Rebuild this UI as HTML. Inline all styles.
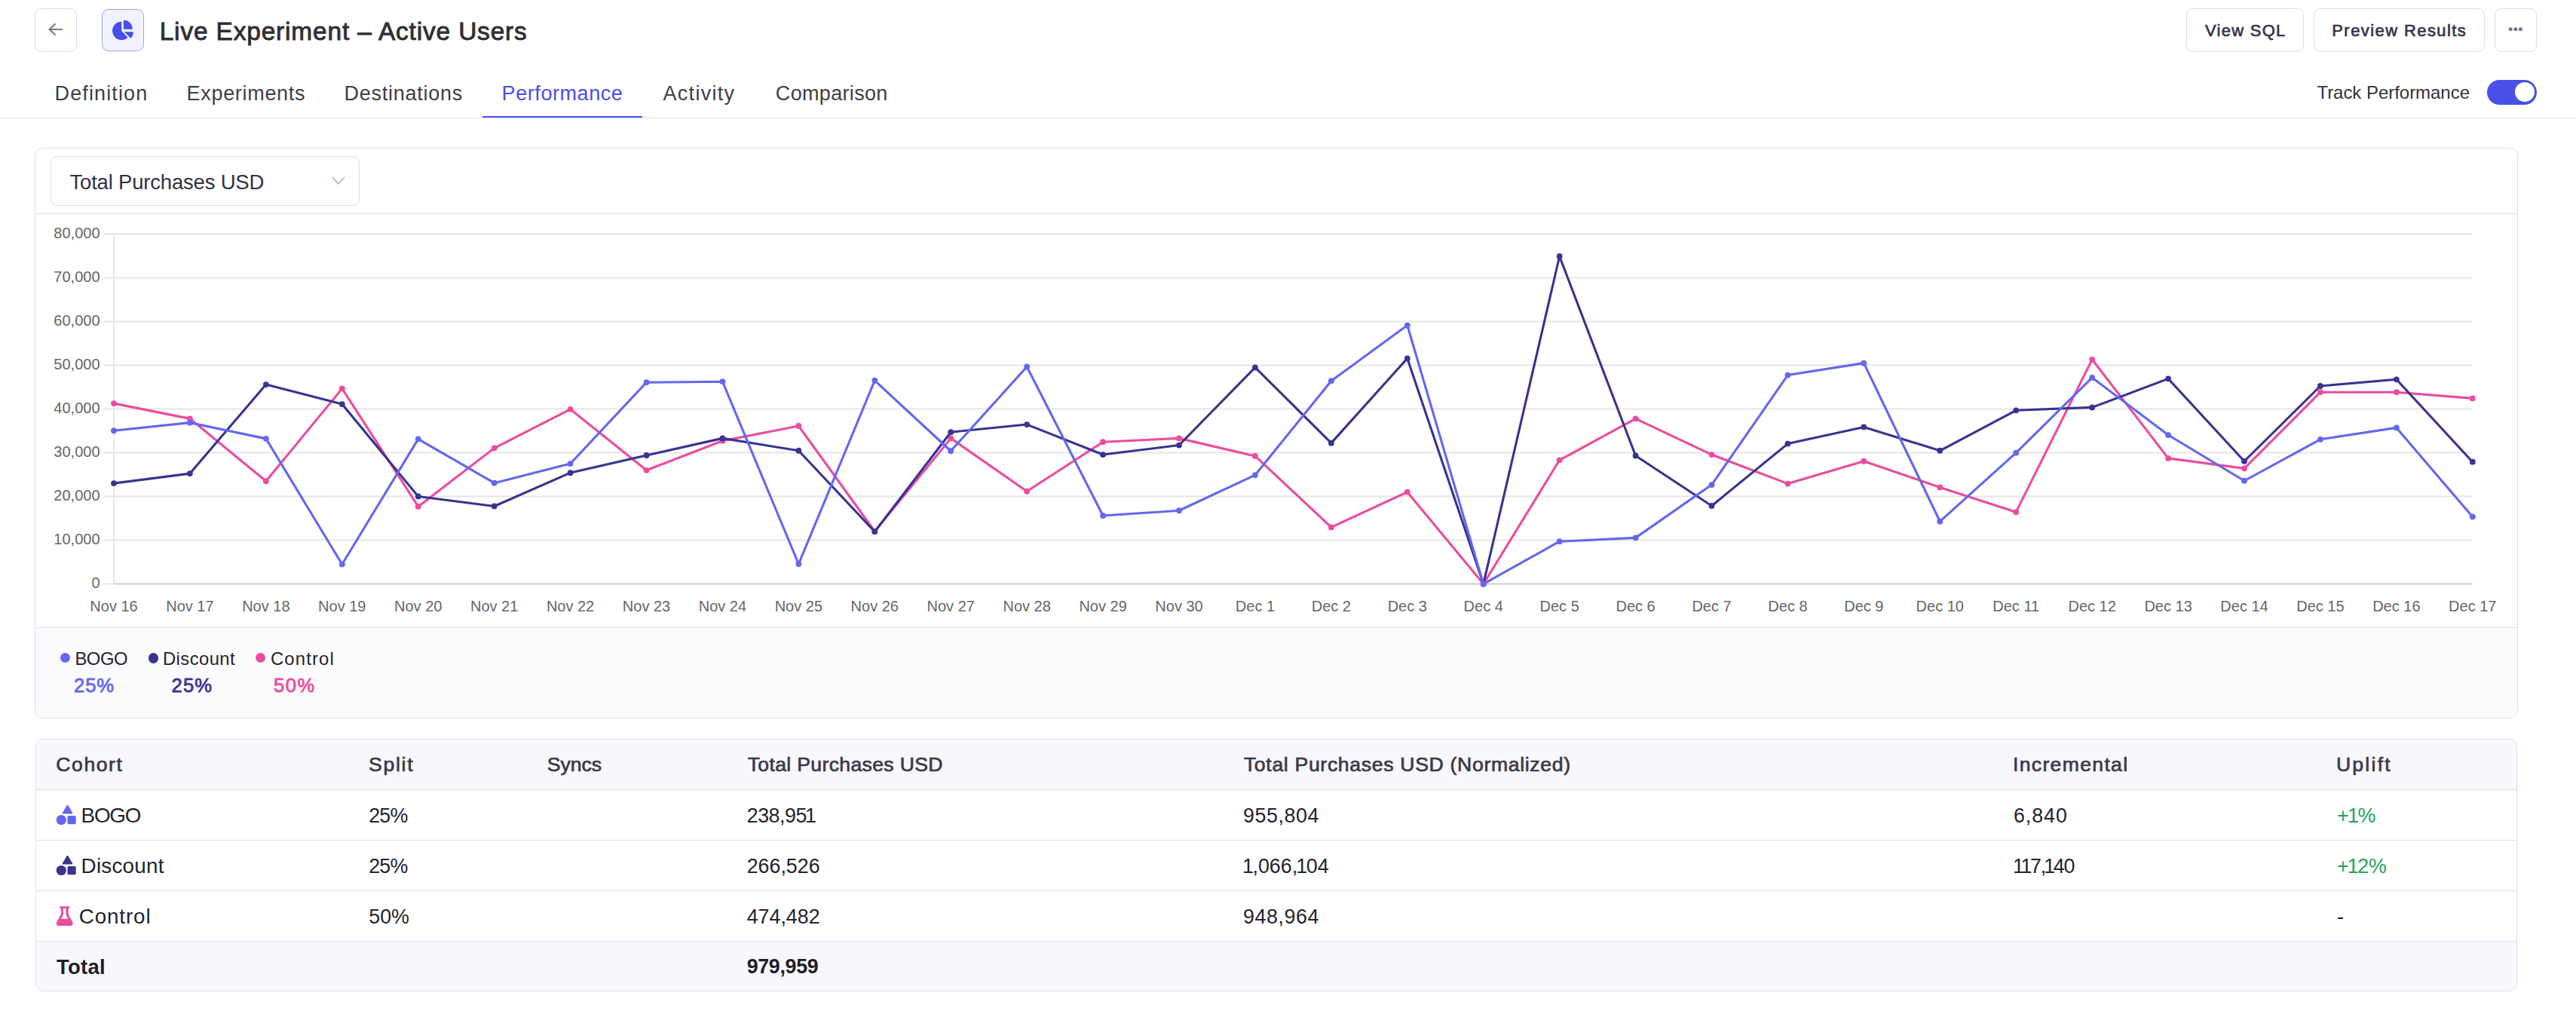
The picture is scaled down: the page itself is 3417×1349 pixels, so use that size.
<!DOCTYPE html>
<html><head><meta charset="utf-8"><title>Live Experiment – Active Users</title>
<style>
*{box-sizing:border-box;margin:0;padding:0}
html,body{width:3417px;height:1349px;overflow:hidden;background:#fff}
body{position:relative;font-family:'Liberation Sans', Arial, sans-serif}
.t{position:absolute;white-space:nowrap;line-height:1}
.box{position:absolute}
.n1{margin:0 -1.5px 0 -1.9px}
</style></head><body>
<!-- header -->
<div class='box' style='left:46px;top:11px;width:56px;height:58px;border:1px solid #dedbf0;border-radius:9px'></div>
<svg class='box' style='left:60px;top:27px' width='26' height='24' viewBox='0 0 26 24'><path d='M13 5 L5.5 12 L13 19 M5.8 12 H22.2' fill='none' stroke='#7c7990' stroke-width='2.2' stroke-linecap='round' stroke-linejoin='round'/></svg>
<div class='box' style='left:135px;top:12px;width:56px;height:56px;border:1px solid #9ea2f4;border-radius:9px;background:#f2f2fe'></div>
<svg class='box' style='left:148px;top:26px' width='30' height='30' viewBox='0 0 30 30'>
<path d='M13.3 14.9 V2.7 A12.2 12.2 0 1 0 21.6 23.8 Z' fill='#4650e6'/>
<path d='M15.9 12.7 V0.8 A11.9 11.9 0 0 1 27.8 12.7 Z' fill='#4650e6'/>
<path d='M16.9 16.2 H28.9 A12 12 0 0 1 25.4 24.7 Z' fill='#4650e6'/>
</svg>
<div class='box' style='left:2900px;top:11px;width:156px;height:58px;border:1px solid #dedbf0;border-radius:9px'></div>
<div class='box' style='left:3069px;top:11px;width:227px;height:58px;border:1px solid #dedbf0;border-radius:9px'></div>
<div class='box' style='left:3309px;top:11px;width:56px;height:58px;border:1px solid #dedbf0;border-radius:9px'></div>
<svg class='box' style='left:3325px;top:35px' width='24' height='8'><circle cx='5.2' cy='3.8' r='2.5' fill='#78758f'/><circle cx='11.8' cy='3.8' r='2.5' fill='#78758f'/><circle cx='18.4' cy='3.8' r='2.5' fill='#78758f'/></svg>
<div class='box' style='left:0;top:156px;width:3417px;height:1px;background:#e0deef'></div>
<div class='box' style='left:640px;top:154px;width:212px;height:2px;background:#4a50e6'></div>
<div class='box' style='left:3299px;top:106px;width:66px;height:33px;border-radius:17px;background:#4850e6'></div>
<div class='box' style='left:3336px;top:109px;width:26px;height:26px;border-radius:50%;background:#fff'></div>
<!-- chart card -->
<div class='box' style='left:46px;top:196px;width:3294px;height:757px;border:1px solid #e0deef;border-radius:10px;overflow:hidden;background:#fff'>
  <div class='box' style='left:0;top:635px;width:100%;height:120px;background:#fbfbfe;border-top:1px solid #e0deef'></div>
  <div class='box' style='left:0;top:86px;width:100%;height:1px;background:#e0deef'></div>
</div>
<div class='box' style='left:67px;top:207px;width:410px;height:66px;border:1px solid #dedbf0;border-radius:9px'></div>
<svg class='box' style='left:438px;top:232px' width='22' height='16'><path d='M3.1 3.3 L10.9 11.9 L18.5 3.3' fill='none' stroke='#aeb0df' stroke-width='1.6' stroke-linecap='round' stroke-linejoin='round'/></svg>
<!-- legend dots -->
<div class='box' style='left:80px;top:866px;width:13px;height:13px;border-radius:50%;background:#6467ee'></div>
<div class='box' style='left:196.5px;top:866px;width:13.5px;height:13.5px;border-radius:50%;background:#38348f'></div>
<div class='box' style='left:339px;top:866px;width:13px;height:13px;border-radius:50%;background:#ec4b9f'></div>
<!-- table card -->
<div class='box' style='left:47px;top:980px;width:3292px;height:335px;border:1px solid #e0deef;border-radius:10px;overflow:hidden;background:#fff'>
  <div class='box' style='left:0;top:0;width:100%;height:67px;background:#f8f7fc;border-bottom:1px solid #e0deef'></div>
  <div class='box' style='left:0;top:133px;width:100%;height:1px;background:#e0deef'></div>
  <div class='box' style='left:0;top:200px;width:100%;height:1px;background:#e0deef'></div>
  <div class='box' style='left:0;top:267px;width:100%;height:68px;background:#f8f7fc;border-top:1px solid #e0deef'></div>
</div>
<!-- cohort icons -->
<svg class='box' style='left:74px;top:1067px' width='28' height='28' viewBox='0 0 28 28'>
<path d='M15.5 1.8 L21.2 11.6 H9.8 Z' fill='#6467ee' stroke='#6467ee' stroke-width='2' stroke-linejoin='round'/>
<circle cx='7.3' cy='20.5' r='6.6' fill='#6467ee'/><rect x='15.5' y='15' width='11.2' height='11.2' rx='1.6' fill='#6467ee'/></svg>
<svg class='box' style='left:74px;top:1134px' width='28' height='28' viewBox='0 0 28 28'>
<path d='M15.5 1.8 L21.2 11.6 H9.8 Z' fill='#38348f' stroke='#38348f' stroke-width='2' stroke-linejoin='round'/>
<circle cx='7.3' cy='20.5' r='6.6' fill='#38348f'/><rect x='15.5' y='15' width='11.2' height='11.2' rx='1.6' fill='#38348f'/></svg>
<svg class='box' style='left:74px;top:1201px' width='24' height='28' viewBox='0 0 24 28'>
<rect x='5.1' y='1.2' width='12.9' height='2.9' rx='1.45' fill='#ec4b9f'/><path d='M6.8 3.5 V11.8 L1.2 22.2 Q-0.4 26.9 4.2 26.9 H19.3 Q23.9 26.9 22.3 22.2 L16.7 11.8 V3.5 Z M9.9 3.5 V12.5 L7.2 17.8 H16.3 L13.5 12.5 V3.5 Z' fill='#ec4b9f' fill-rule='evenodd'/></svg>
<svg width='3417' height='1349' style='position:absolute;left:0;top:0'><line x1='137.5' y1='774.50' x2='151.00' y2='774.50' stroke='#e6e6e6' stroke-width='1.8'/><line x1='151.00' y1='774.50' x2='3279.80' y2='774.50' stroke='#cbcbcb' stroke-width='1.8'/><line x1='137.5' y1='716.50' x2='3279.80' y2='716.50' stroke='#e6e6e6' stroke-width='1.8'/><line x1='137.5' y1='658.50' x2='3279.80' y2='658.50' stroke='#e6e6e6' stroke-width='1.8'/><line x1='137.5' y1='600.50' x2='3279.80' y2='600.50' stroke='#e6e6e6' stroke-width='1.8'/><line x1='137.5' y1='542.50' x2='3279.80' y2='542.50' stroke='#e6e6e6' stroke-width='1.8'/><line x1='137.5' y1='484.50' x2='3279.80' y2='484.50' stroke='#e6e6e6' stroke-width='1.8'/><line x1='137.5' y1='426.50' x2='3279.80' y2='426.50' stroke='#e6e6e6' stroke-width='1.8'/><line x1='137.5' y1='368.50' x2='3279.80' y2='368.50' stroke='#e6e6e6' stroke-width='1.8'/><line x1='137.5' y1='310.50' x2='3279.80' y2='310.50' stroke='#e6e6e6' stroke-width='1.8'/><line x1='151.00' y1='310.50' x2='151.00' y2='774.50' stroke='#e4e4e4' stroke-width='1.8'/><text x='132.5' y='780.10' text-anchor='end' font-family="Liberation Sans, Arial, sans-serif" font-size='20' fill='#666'>0</text><text x='132.5' y='722.10' text-anchor='end' font-family="Liberation Sans, Arial, sans-serif" font-size='20' fill='#666'>10,000</text><text x='132.5' y='664.10' text-anchor='end' font-family="Liberation Sans, Arial, sans-serif" font-size='20' fill='#666'>20,000</text><text x='132.5' y='606.10' text-anchor='end' font-family="Liberation Sans, Arial, sans-serif" font-size='20' fill='#666'>30,000</text><text x='132.5' y='548.10' text-anchor='end' font-family="Liberation Sans, Arial, sans-serif" font-size='20' fill='#666'>40,000</text><text x='132.5' y='490.10' text-anchor='end' font-family="Liberation Sans, Arial, sans-serif" font-size='20' fill='#666'>50,000</text><text x='132.5' y='432.10' text-anchor='end' font-family="Liberation Sans, Arial, sans-serif" font-size='20' fill='#666'>60,000</text><text x='132.5' y='374.10' text-anchor='end' font-family="Liberation Sans, Arial, sans-serif" font-size='20' fill='#666'>70,000</text><text x='132.5' y='316.10' text-anchor='end' font-family="Liberation Sans, Arial, sans-serif" font-size='20' fill='#666'>80,000</text><text x='151.00' y='810.8' text-anchor='middle' font-family="Liberation Sans, Arial, sans-serif" font-size='20' fill='#666'>Nov 16</text><text x='251.93' y='810.8' text-anchor='middle' font-family="Liberation Sans, Arial, sans-serif" font-size='20' fill='#666'>Nov 17</text><text x='352.86' y='810.8' text-anchor='middle' font-family="Liberation Sans, Arial, sans-serif" font-size='20' fill='#666'>Nov 18</text><text x='453.79' y='810.8' text-anchor='middle' font-family="Liberation Sans, Arial, sans-serif" font-size='20' fill='#666'>Nov 19</text><text x='554.72' y='810.8' text-anchor='middle' font-family="Liberation Sans, Arial, sans-serif" font-size='20' fill='#666'>Nov 20</text><text x='655.65' y='810.8' text-anchor='middle' font-family="Liberation Sans, Arial, sans-serif" font-size='20' fill='#666'>Nov 21</text><text x='756.57' y='810.8' text-anchor='middle' font-family="Liberation Sans, Arial, sans-serif" font-size='20' fill='#666'>Nov 22</text><text x='857.50' y='810.8' text-anchor='middle' font-family="Liberation Sans, Arial, sans-serif" font-size='20' fill='#666'>Nov 23</text><text x='958.43' y='810.8' text-anchor='middle' font-family="Liberation Sans, Arial, sans-serif" font-size='20' fill='#666'>Nov 24</text><text x='1059.36' y='810.8' text-anchor='middle' font-family="Liberation Sans, Arial, sans-serif" font-size='20' fill='#666'>Nov 25</text><text x='1160.29' y='810.8' text-anchor='middle' font-family="Liberation Sans, Arial, sans-serif" font-size='20' fill='#666'>Nov 26</text><text x='1261.22' y='810.8' text-anchor='middle' font-family="Liberation Sans, Arial, sans-serif" font-size='20' fill='#666'>Nov 27</text><text x='1362.15' y='810.8' text-anchor='middle' font-family="Liberation Sans, Arial, sans-serif" font-size='20' fill='#666'>Nov 28</text><text x='1463.08' y='810.8' text-anchor='middle' font-family="Liberation Sans, Arial, sans-serif" font-size='20' fill='#666'>Nov 29</text><text x='1564.01' y='810.8' text-anchor='middle' font-family="Liberation Sans, Arial, sans-serif" font-size='20' fill='#666'>Nov 30</text><text x='1664.94' y='810.8' text-anchor='middle' font-family="Liberation Sans, Arial, sans-serif" font-size='20' fill='#666'>Dec 1</text><text x='1765.86' y='810.8' text-anchor='middle' font-family="Liberation Sans, Arial, sans-serif" font-size='20' fill='#666'>Dec 2</text><text x='1866.79' y='810.8' text-anchor='middle' font-family="Liberation Sans, Arial, sans-serif" font-size='20' fill='#666'>Dec 3</text><text x='1967.72' y='810.8' text-anchor='middle' font-family="Liberation Sans, Arial, sans-serif" font-size='20' fill='#666'>Dec 4</text><text x='2068.65' y='810.8' text-anchor='middle' font-family="Liberation Sans, Arial, sans-serif" font-size='20' fill='#666'>Dec 5</text><text x='2169.58' y='810.8' text-anchor='middle' font-family="Liberation Sans, Arial, sans-serif" font-size='20' fill='#666'>Dec 6</text><text x='2270.51' y='810.8' text-anchor='middle' font-family="Liberation Sans, Arial, sans-serif" font-size='20' fill='#666'>Dec 7</text><text x='2371.44' y='810.8' text-anchor='middle' font-family="Liberation Sans, Arial, sans-serif" font-size='20' fill='#666'>Dec 8</text><text x='2472.37' y='810.8' text-anchor='middle' font-family="Liberation Sans, Arial, sans-serif" font-size='20' fill='#666'>Dec 9</text><text x='2573.30' y='810.8' text-anchor='middle' font-family="Liberation Sans, Arial, sans-serif" font-size='20' fill='#666'>Dec 10</text><text x='2674.23' y='810.8' text-anchor='middle' font-family="Liberation Sans, Arial, sans-serif" font-size='20' fill='#666'>Dec 11</text><text x='2775.15' y='810.8' text-anchor='middle' font-family="Liberation Sans, Arial, sans-serif" font-size='20' fill='#666'>Dec 12</text><text x='2876.08' y='810.8' text-anchor='middle' font-family="Liberation Sans, Arial, sans-serif" font-size='20' fill='#666'>Dec 13</text><text x='2977.01' y='810.8' text-anchor='middle' font-family="Liberation Sans, Arial, sans-serif" font-size='20' fill='#666'>Dec 14</text><text x='3077.94' y='810.8' text-anchor='middle' font-family="Liberation Sans, Arial, sans-serif" font-size='20' fill='#666'>Dec 15</text><text x='3178.87' y='810.8' text-anchor='middle' font-family="Liberation Sans, Arial, sans-serif" font-size='20' fill='#666'>Dec 16</text><text x='3279.80' y='810.8' text-anchor='middle' font-family="Liberation Sans, Arial, sans-serif" font-size='20' fill='#666'>Dec 17</text><polyline points='151.00,535.12 251.93,555.36 352.86,638.23 453.79,515.37 554.72,671.96 655.65,594.39 756.57,542.83 857.50,623.78 958.43,584.75 1059.36,565.00 1160.29,704.72 1261.22,581.38 1362.15,651.72 1463.08,586.19 1564.01,581.38 1664.94,604.99 1765.86,699.42 1866.79,652.68 1967.72,774.58 2068.65,610.29 2169.58,555.36 2270.51,603.06 2371.44,641.60 2472.37,611.73 2573.30,646.42 2674.23,679.18 2775.15,476.82 2876.08,607.88 2977.01,621.37 3077.94,520.19 3178.87,520.19 3279.80,528.38' fill='none' stroke='#ec4b9f' stroke-width='3.1' stroke-linejoin='round'/><circle cx='151.00' cy='535.12' r='3.9' fill='#ec4b9f'/><circle cx='251.93' cy='555.36' r='3.9' fill='#ec4b9f'/><circle cx='352.86' cy='638.23' r='3.9' fill='#ec4b9f'/><circle cx='453.79' cy='515.37' r='3.9' fill='#ec4b9f'/><circle cx='554.72' cy='671.96' r='3.9' fill='#ec4b9f'/><circle cx='655.65' cy='594.39' r='3.9' fill='#ec4b9f'/><circle cx='756.57' cy='542.83' r='3.9' fill='#ec4b9f'/><circle cx='857.50' cy='623.78' r='3.9' fill='#ec4b9f'/><circle cx='958.43' cy='584.75' r='3.9' fill='#ec4b9f'/><circle cx='1059.36' cy='565.00' r='3.9' fill='#ec4b9f'/><circle cx='1160.29' cy='704.72' r='3.9' fill='#ec4b9f'/><circle cx='1261.22' cy='581.38' r='3.9' fill='#ec4b9f'/><circle cx='1362.15' cy='651.72' r='3.9' fill='#ec4b9f'/><circle cx='1463.08' cy='586.19' r='3.9' fill='#ec4b9f'/><circle cx='1564.01' cy='581.38' r='3.9' fill='#ec4b9f'/><circle cx='1664.94' cy='604.99' r='3.9' fill='#ec4b9f'/><circle cx='1765.86' cy='699.42' r='3.9' fill='#ec4b9f'/><circle cx='1866.79' cy='652.68' r='3.9' fill='#ec4b9f'/><circle cx='1967.72' cy='774.58' r='3.9' fill='#ec4b9f'/><circle cx='2068.65' cy='610.29' r='3.9' fill='#ec4b9f'/><circle cx='2169.58' cy='555.36' r='3.9' fill='#ec4b9f'/><circle cx='2270.51' cy='603.06' r='3.9' fill='#ec4b9f'/><circle cx='2371.44' cy='641.60' r='3.9' fill='#ec4b9f'/><circle cx='2472.37' cy='611.73' r='3.9' fill='#ec4b9f'/><circle cx='2573.30' cy='646.42' r='3.9' fill='#ec4b9f'/><circle cx='2674.23' cy='679.18' r='3.9' fill='#ec4b9f'/><circle cx='2775.15' cy='476.82' r='3.9' fill='#ec4b9f'/><circle cx='2876.08' cy='607.88' r='3.9' fill='#ec4b9f'/><circle cx='2977.01' cy='621.37' r='3.9' fill='#ec4b9f'/><circle cx='3077.94' cy='520.19' r='3.9' fill='#ec4b9f'/><circle cx='3178.87' cy='520.19' r='3.9' fill='#ec4b9f'/><circle cx='3279.80' cy='528.38' r='3.9' fill='#ec4b9f'/><polyline points='151.00,641.12 251.93,628.11 352.86,510.07 453.79,536.09 554.72,658.47 655.65,671.47 756.57,627.15 857.50,604.02 958.43,581.38 1059.36,597.76 1160.29,705.20 1261.22,573.19 1362.15,563.07 1463.08,603.06 1564.01,590.53 1664.94,487.42 1765.86,587.64 1866.79,475.38 1967.72,774.58 2068.65,339.99 2169.58,604.50 2270.51,670.99 2371.44,588.60 2472.37,566.44 2573.30,597.76 2674.23,544.28 2775.15,540.42 2876.08,502.36 2977.01,611.73 3077.94,512.00 3178.87,503.32 3279.80,612.69' fill='none' stroke='#38348f' stroke-width='3.1' stroke-linejoin='round'/><circle cx='151.00' cy='641.12' r='3.9' fill='#38348f'/><circle cx='251.93' cy='628.11' r='3.9' fill='#38348f'/><circle cx='352.86' cy='510.07' r='3.9' fill='#38348f'/><circle cx='453.79' cy='536.09' r='3.9' fill='#38348f'/><circle cx='554.72' cy='658.47' r='3.9' fill='#38348f'/><circle cx='655.65' cy='671.47' r='3.9' fill='#38348f'/><circle cx='756.57' cy='627.15' r='3.9' fill='#38348f'/><circle cx='857.50' cy='604.02' r='3.9' fill='#38348f'/><circle cx='958.43' cy='581.38' r='3.9' fill='#38348f'/><circle cx='1059.36' cy='597.76' r='3.9' fill='#38348f'/><circle cx='1160.29' cy='705.20' r='3.9' fill='#38348f'/><circle cx='1261.22' cy='573.19' r='3.9' fill='#38348f'/><circle cx='1362.15' cy='563.07' r='3.9' fill='#38348f'/><circle cx='1463.08' cy='603.06' r='3.9' fill='#38348f'/><circle cx='1564.01' cy='590.53' r='3.9' fill='#38348f'/><circle cx='1664.94' cy='487.42' r='3.9' fill='#38348f'/><circle cx='1765.86' cy='587.64' r='3.9' fill='#38348f'/><circle cx='1866.79' cy='475.38' r='3.9' fill='#38348f'/><circle cx='1967.72' cy='774.58' r='3.9' fill='#38348f'/><circle cx='2068.65' cy='339.99' r='3.9' fill='#38348f'/><circle cx='2169.58' cy='604.50' r='3.9' fill='#38348f'/><circle cx='2270.51' cy='670.99' r='3.9' fill='#38348f'/><circle cx='2371.44' cy='588.60' r='3.9' fill='#38348f'/><circle cx='2472.37' cy='566.44' r='3.9' fill='#38348f'/><circle cx='2573.30' cy='597.76' r='3.9' fill='#38348f'/><circle cx='2674.23' cy='544.28' r='3.9' fill='#38348f'/><circle cx='2775.15' cy='540.42' r='3.9' fill='#38348f'/><circle cx='2876.08' cy='502.36' r='3.9' fill='#38348f'/><circle cx='2977.01' cy='611.73' r='3.9' fill='#38348f'/><circle cx='3077.94' cy='512.00' r='3.9' fill='#38348f'/><circle cx='3178.87' cy='503.32' r='3.9' fill='#38348f'/><circle cx='3279.80' cy='612.69' r='3.9' fill='#38348f'/><polyline points='151.00,571.26 251.93,560.66 352.86,581.86 453.79,748.56 554.72,582.34 655.65,640.64 756.57,615.10 857.50,507.18 958.43,506.21 1059.36,748.08 1160.29,504.77 1261.22,598.24 1362.15,486.46 1463.08,684.00 1564.01,677.26 1664.94,630.04 1765.86,505.25 1866.79,431.53 1967.72,774.58 2068.65,718.21 2169.58,713.39 2270.51,643.05 2371.44,497.54 2472.37,481.64 2573.30,691.71 2674.23,600.65 2775.15,500.91 2876.08,577.04 2977.01,637.75 3077.94,582.82 3178.87,567.40 3279.80,685.45' fill='none' stroke='#6467ee' stroke-width='3.1' stroke-linejoin='round'/><circle cx='151.00' cy='571.26' r='3.9' fill='#6467ee'/><circle cx='251.93' cy='560.66' r='3.9' fill='#6467ee'/><circle cx='352.86' cy='581.86' r='3.9' fill='#6467ee'/><circle cx='453.79' cy='748.56' r='3.9' fill='#6467ee'/><circle cx='554.72' cy='582.34' r='3.9' fill='#6467ee'/><circle cx='655.65' cy='640.64' r='3.9' fill='#6467ee'/><circle cx='756.57' cy='615.10' r='3.9' fill='#6467ee'/><circle cx='857.50' cy='507.18' r='3.9' fill='#6467ee'/><circle cx='958.43' cy='506.21' r='3.9' fill='#6467ee'/><circle cx='1059.36' cy='748.08' r='3.9' fill='#6467ee'/><circle cx='1160.29' cy='504.77' r='3.9' fill='#6467ee'/><circle cx='1261.22' cy='598.24' r='3.9' fill='#6467ee'/><circle cx='1362.15' cy='486.46' r='3.9' fill='#6467ee'/><circle cx='1463.08' cy='684.00' r='3.9' fill='#6467ee'/><circle cx='1564.01' cy='677.26' r='3.9' fill='#6467ee'/><circle cx='1664.94' cy='630.04' r='3.9' fill='#6467ee'/><circle cx='1765.86' cy='505.25' r='3.9' fill='#6467ee'/><circle cx='1866.79' cy='431.53' r='3.9' fill='#6467ee'/><circle cx='1967.72' cy='774.58' r='3.9' fill='#6467ee'/><circle cx='2068.65' cy='718.21' r='3.9' fill='#6467ee'/><circle cx='2169.58' cy='713.39' r='3.9' fill='#6467ee'/><circle cx='2270.51' cy='643.05' r='3.9' fill='#6467ee'/><circle cx='2371.44' cy='497.54' r='3.9' fill='#6467ee'/><circle cx='2472.37' cy='481.64' r='3.9' fill='#6467ee'/><circle cx='2573.30' cy='691.71' r='3.9' fill='#6467ee'/><circle cx='2674.23' cy='600.65' r='3.9' fill='#6467ee'/><circle cx='2775.15' cy='500.91' r='3.9' fill='#6467ee'/><circle cx='2876.08' cy='577.04' r='3.9' fill='#6467ee'/><circle cx='2977.01' cy='637.75' r='3.9' fill='#6467ee'/><circle cx='3077.94' cy='582.82' r='3.9' fill='#6467ee'/><circle cx='3178.87' cy='567.40' r='3.9' fill='#6467ee'/><circle cx='3279.80' cy='685.45' r='3.9' fill='#6467ee'/></svg>
<div class='t' id='title' style='left:211.70px;top:25.13px;font-size:33.4px;font-weight:400;color:#2f2f35;letter-spacing:0.862px;-webkit-text-stroke:0.9px #2f2f35'>Live Experiment – Active Users</div><div class='t' id='viewsql' style='left:2925.00px;top:30.06px;font-size:21.9px;font-weight:400;color:#35344a;letter-spacing:1.317px;-webkit-text-stroke:0.7px #35344a'>View SQL</div><div class='t' id='preview' style='left:3093.30px;top:30.06px;font-size:21.9px;font-weight:400;color:#35344a;letter-spacing:1.469px;-webkit-text-stroke:0.7px #35344a'>Preview Results</div><div class='t' id='tab0' style='left:72.50px;top:110.94px;font-size:27px;font-weight:400;color:#3e3e46;letter-spacing:1.131px'>Definition</div><div class='t' id='tab1' style='left:247.60px;top:110.94px;font-size:27px;font-weight:400;color:#3e3e46;letter-spacing:0.680px'>Experiments</div><div class='t' id='tab2' style='left:456.60px;top:110.94px;font-size:27px;font-weight:400;color:#3e3e46;letter-spacing:0.727px'>Destinations</div><div class='t' id='tab3' style='left:665.60px;top:110.94px;font-size:27px;font-weight:400;color:#4a4fe6;letter-spacing:0.570px'>Performance</div><div class='t' id='tab4' style='left:879.50px;top:110.94px;font-size:27px;font-weight:400;color:#3e3e46;letter-spacing:1.297px'>Activity</div><div class='t' id='tab5' style='left:1028.80px;top:110.94px;font-size:27px;font-weight:400;color:#3e3e46;letter-spacing:0.333px'>Comparison</div><div class='t' id='track' style='left:3073.40px;top:111.18px;font-size:24.0px;font-weight:400;color:#333338;letter-spacing:-0.035px'>Track Performance</div><div class='t' id='dropdown' style='left:92.50px;top:227.82px;font-size:27.5px;font-weight:400;color:#33323f;letter-spacing:-0.194px'>Total Purchases USD</div><div class='t' id='lg0' style='left:99.50px;top:861.85px;font-size:23.8px;font-weight:400;color:#24232c;letter-spacing:-0.500px'>BOGO</div><div class='t' id='lg1' style='left:216.00px;top:861.85px;font-size:23.8px;font-weight:400;color:#24232c;letter-spacing:0.429px'>Discount</div><div class='t' id='lg2' style='left:359.00px;top:861.85px;font-size:23.8px;font-weight:400;color:#24232c;letter-spacing:1.167px'>Control</div><div class='t' id='lp0' style='left:98.00px;top:897.03px;font-size:25.6px;font-weight:400;color:#6467ee;letter-spacing:0.900px;-webkit-text-stroke:0.8px #6467ee'>25%</div><div class='t' id='lp1' style='left:227.50px;top:897.03px;font-size:25.6px;font-weight:400;color:#38348f;letter-spacing:1.200px;-webkit-text-stroke:0.8px #38348f'>25%</div><div class='t' id='lp2' style='left:363.00px;top:897.03px;font-size:25.6px;font-weight:400;color:#ec4b9f;letter-spacing:1.500px;-webkit-text-stroke:0.8px #ec4b9f'>50%</div><div class='t' id='th0' style='left:74.30px;top:1001.48px;font-size:26.6px;font-weight:400;color:#3a3949;letter-spacing:1.560px;-webkit-text-stroke:0.7px #3a3949'>Cohort</div><div class='t' id='th1' style='left:489.00px;top:1001.48px;font-size:26.6px;font-weight:400;color:#3a3949;letter-spacing:1.700px;-webkit-text-stroke:0.7px #3a3949'>Split</div><div class='t' id='th2' style='left:725.80px;top:1001.48px;font-size:26.6px;font-weight:400;color:#3a3949;letter-spacing:-0.025px;-webkit-text-stroke:0.7px #3a3949'>Syncs</div><div class='t' id='th3' style='left:991.70px;top:1001.48px;font-size:26.6px;font-weight:400;color:#3a3949;letter-spacing:0.334px;-webkit-text-stroke:0.7px #3a3949'>Total Purchases USD</div><div class='t' id='th4' style='left:1649.90px;top:1001.48px;font-size:26.6px;font-weight:400;color:#3a3949;letter-spacing:0.674px;-webkit-text-stroke:0.7px #3a3949'>Total Purchases USD (Normalized)</div><div class='t' id='th5' style='left:2670.00px;top:1001.48px;font-size:26.6px;font-weight:400;color:#3a3949;letter-spacing:1.320px;-webkit-text-stroke:0.7px #3a3949'>Incremental</div><div class='t' id='th6' style='left:3098.90px;top:1001.48px;font-size:26.6px;font-weight:400;color:#3a3949;letter-spacing:2.240px;-webkit-text-stroke:0.7px #3a3949'>Uplift</div><div class='t' id='rn0' style='left:107.60px;top:1068.07px;font-size:27.8px;font-weight:400;color:#24232e;letter-spacing:-1.202px'>BOGO</div><div class='t' id='rs0' style='left:489.30px;top:1068.91px;font-size:26.8px;font-weight:400;color:#24232e;letter-spacing:-0.850px'>25%</div><div class='t' id='rt0' style='left:990.70px;top:1068.91px;font-size:26.8px;font-weight:400;color:#24232e;letter-spacing:-0.451px'>238,95<span class='n1'>1</span></div><div class='t' id='rtn0' style='left:1648.90px;top:1068.91px;font-size:26.8px;font-weight:400;color:#24232e;letter-spacing:0.618px'>955,804</div><div class='t' id='ri0' style='left:2671.00px;top:1068.91px;font-size:26.8px;font-weight:400;color:#24232e;letter-spacing:0.950px'>6,840</div><div class='t' id='ru0' style='left:3099.90px;top:1068.91px;font-size:26.8px;font-weight:400;color:#21a35f;letter-spacing:0.250px'>+<span class='n1'>1</span>%</div><div class='t' id='rn1' style='left:107.60px;top:1135.27px;font-size:27.8px;font-weight:400;color:#24232e;letter-spacing:0.231px'>Discount</div><div class='t' id='rs1' style='left:489.30px;top:1136.11px;font-size:26.8px;font-weight:400;color:#24232e;letter-spacing:-0.850px'>25%</div><div class='t' id='rt1' style='left:990.70px;top:1136.11px;font-size:26.8px;font-weight:400;color:#24232e;letter-spacing:0.000px'>266,526</div><div class='t' id='rtn1' style='left:1649.90px;top:1136.11px;font-size:26.8px;font-weight:400;color:#24232e;letter-spacing:0.032px'><span class='n1'>1</span>,066,<span class='n1'>1</span>04</div><div class='t' id='ri1' style='left:2672.00px;top:1136.11px;font-size:26.8px;font-weight:400;color:#24232e;letter-spacing:-1.049px'><span class='n1'>1</span><span class='n1'>1</span>7,<span class='n1'>1</span>40</div><div class='t' id='ru1' style='left:3099.90px;top:1136.11px;font-size:26.8px;font-weight:400;color:#21a35f;letter-spacing:0.031px'>+<span class='n1'>1</span>2%</div><div class='t' id='rn2' style='left:104.70px;top:1201.97px;font-size:27.8px;font-weight:400;color:#24232e;letter-spacing:0.882px'>Control</div><div class='t' id='rs2' style='left:489.30px;top:1202.81px;font-size:26.8px;font-weight:400;color:#24232e;letter-spacing:0.000px'>50%</div><div class='t' id='rt2' style='left:990.70px;top:1202.81px;font-size:26.8px;font-weight:400;color:#24232e;letter-spacing:0.000px'>474,482</div><div class='t' id='rtn2' style='left:1648.90px;top:1202.81px;font-size:26.8px;font-weight:400;color:#24232e;letter-spacing:0.618px'>948,964</div><div class='t' id='ru2' style='left:3099.90px;top:1202.81px;font-size:26.8px;font-weight:400;color:#24232e;letter-spacing:0.000px'>-</div><div class='t' id='total' style='left:75.00px;top:1268.72px;font-size:27.5px;font-weight:700;color:#1f1e27;letter-spacing:0.225px'>Total</div><div class='t' id='totalv' style='left:990.70px;top:1269.31px;font-size:26.8px;font-weight:700;color:#1f1e27;letter-spacing:-0.314px'>979,959</div>
</body></html>
